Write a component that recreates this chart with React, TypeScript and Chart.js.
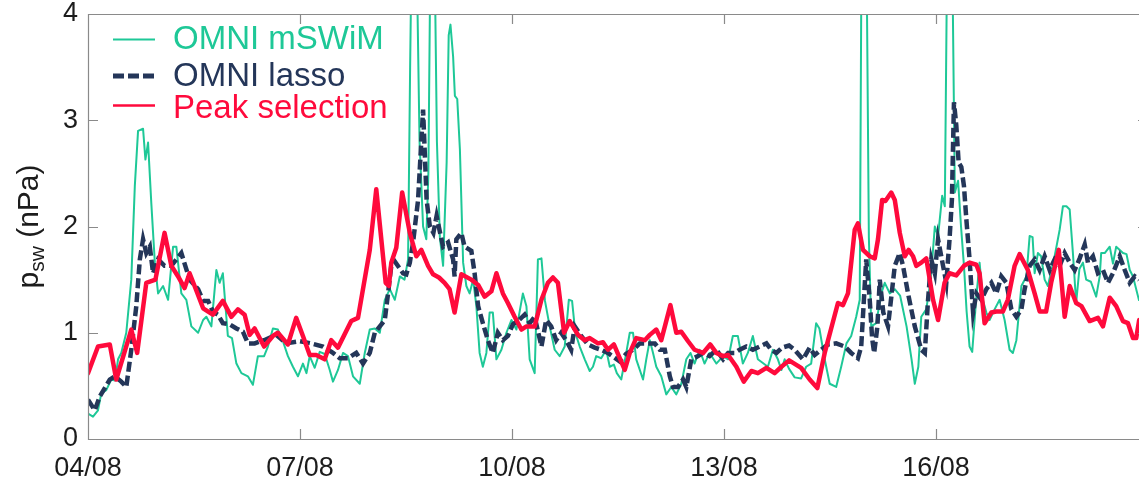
import React, { useEffect, useRef } from "react";
import { Chart, registerables } from "chart.js";

Chart.register(...registerables);

// Time axis: hours since 04/08 00:00
const xTickHours = [0, 72, 144, 216, 288];
const yTickValues = [0, 1, 2, 3, 4];
const startDay = 4;
const monthLabel = "08";

const seriesLabels = ["OMNI mSWiM", "OMNI lasso", "Peak selection"];

const mswimHours = [
  0, 1.7, 3.4, 4.5, 6.2, 7.9, 9.2, 10.2, 11.3, 13.0, 14.7, 15.9, 17.0, 18.7, 19.5, 20.4, 21.5, 22.7, 23.8, 25.5,
  27.2, 28.9, 30.0, 31.7, 33.4, 35.1, 37.4, 39.1, 40.2, 41.9, 43.6, 44.7, 45.8, 47.5, 48.9, 50.4, 52.1, 54.3, 56.0, 57.7,
  59.8, 61.1, 62.8, 64.5, 66.2, 67.9, 69.6, 71.3, 73.0, 74.2, 75.3, 77.0, 78.7, 80.4, 82.1, 83.2, 84.9, 86.6, 88.3, 90.0,
  92.3, 94.0, 95.7, 97.4, 99.1, 100.8, 102.5, 104.2, 105.9, 107.5, 108.7, 109.4, 109.9, 111.6, 112.6, 113.8, 114.9, 115.6, 116.3, 117.7,
  118.5, 119.5, 120.6, 121.8, 122.5, 123.1, 124.0, 124.6, 125.4, 126.3, 127.4, 128.5, 129.6, 130.8, 131.9, 133.0, 134.1, 135.3, 136.4, 137.5,
  138.7, 140.4, 142.1, 143.8, 145.5, 147.7, 148.9, 150.0, 151.7, 152.8, 154.0, 155.2, 156.8, 158.5, 160.2, 161.9, 163.3, 164.4, 165.5, 167.0,
  168.7, 170.4, 171.5, 172.6, 174.3, 176.0, 177.2, 178.6, 179.6, 181.1, 182.8, 184.0, 185.1, 186.2, 188.5, 189.6, 190.8, 191.9, 193.0, 194.7,
  196.4, 198.1, 199.8, 201.5, 203.2, 204.6, 206.0, 207.7, 209.4, 211.1, 213.4, 215.7, 217.4, 219.0, 220.7, 222.4, 224.1, 225.8, 227.5, 230.9,
  232.6, 234.3, 235.5, 236.6, 238.1, 240.0, 242.2, 243.9, 245.6, 247.3, 248.4, 250.2, 251.9, 254.1, 255.8, 257.6, 259.2, 260.9, 262.1, 262.7,
  264.4, 265.2, 266.0, 267.7, 269.4, 270.6, 272.3, 274.0, 275.8, 278.0, 279.7, 280.8, 282.0, 283.0, 284.7, 286.2, 287.6, 288.7, 290.1, 291.0,
  291.8, 293.5, 294.4, 295.5, 296.5, 297.5, 298.4, 299.4, 300.3, 301.7, 302.8, 304.0, 305.1, 306.2, 307.9, 309.6, 311.3, 313.0, 314.1, 315.3,
  317.0, 318.7, 319.8, 320.8, 321.5, 322.6, 323.7, 324.9, 326.0, 328.3, 330.0, 331.1, 332.3, 333.4, 334.5, 335.6, 336.7, 337.9, 339.0, 340.6,
  342.4, 343.6, 344.1, 345.3, 347.0, 348.1, 349.2, 351.5, 352.7, 353.8, 354.9, 357.0,
];
const mswimValues = [
  0.24, 0.21, 0.27, 0.43, 0.46, 0.56, 0.55, 0.75, 0.81, 1.0, 1.5, 2.38, 2.9, 2.92, 2.63, 2.79, 2.22, 1.66, 1.37, 1.44,
  1.31, 1.81, 1.81, 1.37, 1.31, 1.06, 1.0, 1.12, 1.15, 1.06, 1.59, 1.47, 1.56, 0.97, 0.95, 0.71, 0.62, 0.59, 0.51, 0.78,
  0.78, 0.87, 1.04, 1.03, 0.92, 0.78, 0.68, 0.59, 0.71, 0.62, 0.78, 0.67, 0.82, 0.8, 0.65, 0.54, 0.65, 0.81, 0.78, 0.59,
  0.52, 0.81, 1.03, 1.04, 1.0, 1.31, 1.41, 1.31, 1.53, 1.5, 1.69, 3.5, 4.6, 4.6, 2.8, 2.0, 1.88, 2.5, 4.6, 4.6,
  2.8, 1.9, 1.63, 2.6, 3.8, 3.9, 3.6, 3.23, 3.2, 2.73, 1.66, 1.44, 1.37, 1.5, 1.25, 0.81, 0.68, 0.81, 1.19, 1.19,
  0.75, 0.84, 1.0, 1.12, 1.03, 1.37, 1.25, 0.75, 0.62, 1.69, 1.7, 1.3, 1.06, 0.84, 0.78, 0.87, 1.31, 1.3, 1.0, 0.87,
  0.75, 0.64, 0.68, 0.78, 0.76, 0.84, 0.68, 0.7, 0.62, 0.56, 0.81, 1.0, 1.0, 0.75, 0.56, 0.75, 0.93, 0.81, 0.68, 0.59,
  0.42, 0.49, 0.42, 0.52, 0.75, 0.81, 0.71, 0.84, 0.71, 0.81, 0.71, 0.78, 0.75, 0.97, 0.97, 0.71, 0.81, 0.97, 0.75, 0.68,
  0.84, 0.75, 0.65, 0.75, 0.66, 0.58, 0.57, 0.68, 0.71, 1.09, 1.04, 0.75, 0.52, 0.49, 0.68, 0.9, 0.97, 1.15, 1.31, 4.6,
  4.6, 1.9, 1.06, 1.09, 1.37, 1.47, 1.37, 1.41, 1.35, 1.06, 0.75, 0.52, 0.68, 1.15, 1.22, 1.5, 2.0, 1.91, 2.29, 2.19,
  4.6, 4.6, 2.32, 2.43, 2.0, 1.63, 1.2, 0.87, 0.82, 1.34, 1.66, 1.3, 1.19, 1.12, 1.22, 1.31, 1.12, 0.84, 0.81, 0.93,
  1.44, 1.53, 1.91, 1.9, 1.56, 1.75, 1.72, 1.5, 1.44, 1.72, 1.97, 2.19, 2.19, 2.16, 1.75, 1.28, 1.6, 1.66, 1.5, 1.48,
  1.34, 1.53, 1.75, 1.75, 1.81, 1.65, 1.81, 1.75, 1.74, 1.59, 1.53, 1.3,
];

const lassoHours = [
  0, 2.3, 4.0, 7.4, 9.1, 11.3, 13.0, 14.7, 16.4, 17.6, 18.7, 19.8, 21.0, 22.1, 23.8, 26.0, 28.3, 30.0, 31.7, 34.5,
  37.4, 39.1, 40.8, 42.4, 44.1, 45.8, 48.1, 50.4, 52.6, 54.3, 56.6, 59.8, 63.9, 67.3, 71.9, 75.8, 79.8, 83.2, 85.5, 88.3,
  91.1, 93.4, 95.7, 97.4, 100.8, 101.9, 103.0, 104.2, 107.0, 108.1, 109.3, 110.4, 112.1, 113.8, 115.0, 116.1, 117.3, 118.4, 119.5, 120.6,
  122.3, 124.0, 124.5, 125.1, 126.8, 127.9, 130.2, 131.3, 132.5, 134.1, 135.8, 137.5, 139.2, 140.9, 142.6, 144.3, 146.0, 148.3, 150.0, 151.7,
  154.0, 155.6, 157.3, 159.0, 160.7, 162.4, 164.1, 165.3, 167.5, 169.8, 172.1, 174.3, 176.6, 178.6, 180.6, 182.7, 185.1, 187.4, 189.6, 192.5,
  194.2, 195.9, 197.6, 198.7, 200.4, 202.1, 203.2, 204.9, 207.2, 208.9, 211.1, 213.4, 215.7, 217.4, 219.6, 221.3, 223.6, 225.8, 228.1, 230.4,
  232.0, 233.8, 235.7, 238.1, 240.0, 242.8, 245.1, 246.8, 249.0, 251.3, 254.1, 257.0, 259.2, 261.5, 262.6, 264.3, 265.5, 266.3, 267.0, 268.1,
  268.9, 270.1, 271.7, 274.0, 275.7, 276.8, 278.5, 280.8, 283.0, 284.2, 285.3, 286.4, 287.6, 288.7, 290.4, 291.5, 292.6, 293.4, 294.1, 294.9,
  295.7, 296.6, 297.5, 298.3, 299.4, 300.6, 301.7, 303.4, 305.1, 306.8, 308.5, 310.2, 311.9, 313.6, 315.3, 317.0, 318.1, 319.8, 321.5, 323.2,
  324.9, 326.6, 328.3, 330.0, 331.7, 333.4, 335.1, 336.8, 338.5, 339.6, 341.3, 343.0, 344.7, 346.4, 348.1, 350.4, 352.1, 353.8, 355.5, 357.0,
];
const lassoValues = [
  0.37, 0.27, 0.4, 0.56, 0.59, 0.54, 0.49, 0.84, 1.25, 1.69, 1.88, 1.75, 1.81, 1.56, 1.69, 1.63, 1.63, 1.69, 1.75, 1.5,
  1.41, 1.3, 1.3, 1.2, 1.17, 1.09, 1.08, 1.04, 1.01, 0.9, 0.9, 0.93, 0.98, 0.9, 0.92, 0.9, 0.87, 0.81, 0.76, 0.76,
  0.81, 0.71, 0.81, 1.0, 1.12, 1.37, 1.63, 1.67, 1.56, 1.55, 1.66, 1.85, 2.25, 3.1, 2.25, 2.0, 1.94, 2.1, 1.95, 1.81,
  1.85, 1.69, 1.53, 1.88, 1.94, 1.81, 1.77, 1.56, 1.25, 1.09, 0.93, 0.81, 1.0, 0.93, 0.97, 1.08, 1.11, 1.17, 1.09, 1.15,
  0.87, 1.12, 1.06, 0.93, 1.0, 0.93, 0.84, 1.06, 0.97, 0.89, 0.86, 0.84, 0.81, 0.77, 0.73, 0.8, 0.84, 0.9, 0.9, 0.9,
  0.84, 0.84, 0.59, 0.49, 0.49, 0.56, 0.49, 0.75, 0.78, 0.81, 0.78, 0.84, 0.75, 0.81, 0.81, 0.84, 0.87, 0.84, 0.87, 0.9,
  0.84, 0.81, 0.86, 0.88, 0.84, 0.75, 0.86, 0.79, 0.84, 0.89, 0.9, 0.87, 0.81, 0.76, 0.87, 1.69, 1.31, 0.95, 0.81, 1.06,
  1.5, 1.19, 1.06, 1.63, 1.75, 1.63, 1.37, 1.06, 0.84, 0.81, 1.31, 1.69, 1.56, 1.88, 1.63, 1.47, 1.88, 2.25, 3.17, 2.95,
  2.6, 2.56, 2.38, 2.07, 1.69, 1.19, 1.37, 1.31, 1.41, 1.47, 1.37, 1.53, 1.47, 1.22, 1.15, 1.22, 1.41, 1.63, 1.69, 1.59,
  1.72, 1.59, 1.69, 1.63, 1.75, 1.66, 1.59, 1.7, 1.83, 1.66, 1.72, 1.56, 1.59, 1.47, 1.56, 1.72, 1.59, 1.47, 1.53, 1.5,
];

const peakHours = [
  0, 3.4, 7.4, 9.6, 14.7, 16.7, 19.8, 22.9, 26.0, 28.3, 30.6, 32.8, 34.5, 36.2, 39.1, 42.4, 45.8, 48.7, 50.9, 53.2,
  54.9, 56.6, 59.8, 62.8, 64.5, 67.9, 70.7, 73.0, 75.3, 77.5, 80.4, 82.6, 84.9, 89.4, 91.7, 95.7, 97.9, 101.1, 102.2, 103.0,
  104.7, 106.7, 109.3, 111.5, 113.2, 115.5, 117.2, 119.2, 121.1, 122.8, 124.5, 126.8, 130.2, 132.5, 134.7, 137.0, 138.7, 140.9, 142.6, 144.9,
  147.2, 148.9, 151.7, 154.0, 156.2, 157.9, 159.6, 161.7, 163.6, 166.4, 168.7, 170.4, 173.2, 174.9, 176.6, 178.6, 182.3, 184.0, 186.2, 189.1,
  190.8, 193.0, 194.7, 197.8, 199.8, 201.5, 203.8, 206.0, 208.9, 211.3, 213.4, 215.7, 217.4, 220.2, 222.7, 225.3, 227.5, 230.4, 233.2, 235.5,
  238.1, 242.2, 245.1, 247.7, 250.2, 254.7, 256.4, 258.1, 260.4, 261.5, 263.2, 265.5, 267.2, 268.3, 269.7, 270.8, 272.8, 274.0, 275.7, 277.4,
  278.7, 280.2, 281.3, 283.0, 284.7, 287.0, 288.7, 290.9, 292.6, 294.9, 297.5, 299.4, 301.7, 302.8, 304.5, 306.8, 308.5, 310.7, 312.4, 314.7,
  316.4, 319.2, 321.5, 323.2, 325.4, 327.1, 329.7, 331.7, 333.4, 335.6, 337.4, 340.2, 343.0, 344.7, 347.0, 349.2, 351.5, 353.2, 354.9, 356.0,
  357.0,
];
const peakValues = [
  0.62, 0.87, 0.89, 0.56, 1.03, 0.81, 1.47, 1.5, 1.94, 1.63, 1.53, 1.42, 1.56, 1.44, 1.23, 1.17, 1.3, 1.15, 1.22, 1.17,
  0.98, 1.04, 0.87, 0.97, 1.0, 0.89, 1.14, 0.97, 0.79, 0.79, 0.75, 0.93, 0.86, 1.11, 1.14, 1.78, 2.35, 1.47, 1.44, 1.66,
  1.8, 2.32, 1.94, 1.72, 1.78, 1.63, 1.55, 1.52, 1.47, 1.41, 1.19, 1.55, 1.5, 1.45, 1.34, 1.39, 1.56, 1.37, 1.28, 1.15,
  1.03, 1.06, 1.06, 1.31, 1.47, 1.52, 1.47, 1.0, 1.11, 0.98, 0.93, 0.95, 0.9, 0.91, 0.84, 0.89, 0.65, 0.81, 0.95, 0.93,
  0.98, 1.03, 0.93, 1.26, 1.0, 1.01, 0.92, 0.84, 0.81, 0.89, 0.81, 0.78, 0.79, 0.68, 0.54, 0.64, 0.62, 0.67, 0.62, 0.68,
  0.74, 0.67, 0.56, 0.48, 0.81, 1.28, 1.26, 1.37, 1.97, 2.03, 1.78, 1.72, 1.7, 1.88, 2.25, 2.24, 2.32, 2.25, 1.94, 1.72,
  1.78, 1.72, 1.63, 1.66, 1.7, 1.31, 1.12, 1.47, 1.56, 1.54, 1.63, 1.66, 1.64, 1.56, 1.09, 1.19, 1.2, 1.2, 1.31, 1.63,
  1.74, 1.59, 1.37, 1.2, 1.2, 1.47, 1.78, 1.15, 1.44, 1.28, 1.25, 1.11, 1.14, 1.06, 1.33, 1.25, 1.11, 1.09, 0.95, 0.95,
  1.12,
];

const GREEN = "#1ec897";
const NAVY = "#243659";
const RED = "#ff0a3c";
const AXIS = "#8a8a8a";
const TEXT = "#1c1c1c";
const FONT = '"Liberation Sans", Arial, Helvetica, sans-serif';

const toPoints = (hours: number[], values: number[]) =>
  hours.map((h, i) => ({ x: h, y: values[i] }));

const formatDay = (h: number) => {
  const d = startDay + Math.round(h / 24);
  return `${String(d).padStart(2, "0")}/${monthLabel}`;
};

// Box outline with inward tick marks on all four sides
const framePlugin = {
  id: "frame",
  afterDraw(chart: any) {
    const { ctx, chartArea: a, scales } = chart;
    const len = 10;
    ctx.save();
    ctx.strokeStyle = AXIS;
    ctx.lineWidth = 1.2;
    ctx.beginPath();
    ctx.rect(a.left + 0.5, a.top + 0.5, a.right - a.left, a.bottom - a.top);
    xTickHours.forEach((h) => {
      const px = Math.round(scales.x.getPixelForValue(h)) + 0.5;
      ctx.moveTo(px, a.bottom);
      ctx.lineTo(px, a.bottom - len);
      ctx.moveTo(px, a.top);
      ctx.lineTo(px, a.top + len);
    });
    yTickValues.forEach((v) => {
      const py = Math.round(scales.y.getPixelForValue(v)) + 0.5;
      ctx.moveTo(a.left, py);
      ctx.lineTo(a.left + len, py);
      ctx.moveTo(a.right, py);
      ctx.lineTo(a.right - len, py);
    });
    ctx.stroke();
    ctx.restore();
  },
};

// Y-axis title with a subscript
const yTitlePlugin = {
  id: "yTitle",
  afterDraw(chart: any) {
    const { ctx, chartArea: a } = chart;
    const main = `30px ${FONT}`;
    const sub = `21px ${FONT}`;
    ctx.save();
    ctx.font = main;
    const wP = ctx.measureText("p").width;
    const wRest = ctx.measureText(" (nPa)").width;
    ctx.font = sub;
    const wSub = ctx.measureText("sw").width;
    const total = wP + wSub + wRest;
    const cy = (a.top + a.bottom) / 2;
    ctx.translate(38, cy);
    ctx.rotate(-Math.PI / 2);
    ctx.fillStyle = TEXT;
    ctx.textBaseline = "alphabetic";
    let x = -total / 2;
    ctx.font = main;
    ctx.fillText("p", x, 0);
    x += wP;
    ctx.font = sub;
    ctx.fillText("sw", x, 6);
    x += wSub;
    ctx.font = main;
    ctx.fillText(" (nPa)", x, 0);
    ctx.restore();
  },
};

// Legend drawn inside the plot area, text coloured like its series
const legendPlugin = {
  id: "insideLegend",
  afterDraw(chart: any) {
    const { ctx } = chart;
    const rows = [
      { label: seriesLabels[0], color: GREEN, width: 2, dash: [] as number[], ly: 39.5, ty: 40 },
      { label: seriesLabels[1], color: NAVY, width: 5, dash: [11, 4], ly: 76, ty: 76.5 },
      { label: seriesLabels[2], color: RED, width: 2.5, dash: [] as number[], ly: 105.5, ty: 109 },
    ];
    ctx.save();
    rows.forEach((r) => {
      ctx.beginPath();
      ctx.strokeStyle = r.color;
      ctx.lineWidth = r.width;
      ctx.setLineDash(r.dash);
      ctx.lineCap = "butt";
      ctx.moveTo(113, r.ly);
      ctx.lineTo(155, r.ly);
      ctx.stroke();
      ctx.setLineDash([]);
      ctx.font = `33px ${FONT}`;
      ctx.fillStyle = r.color;
      ctx.textBaseline = "middle";
      ctx.textAlign = "left";
      ctx.fillText(r.label, 173, r.ty);
    });
    ctx.restore();
  },
};

export default function App() {
  const canvasRef = useRef<HTMLCanvasElement | null>(null);

  useEffect(() => {
    if (!canvasRef.current) return;
    const chart = new Chart(canvasRef.current, {
      type: "line",
      data: {
        datasets: [
          {
            label: seriesLabels[2],
            data: toPoints(peakHours, peakValues),
            borderColor: RED,
            borderWidth: 4.5,
            pointRadius: 0,
            tension: 0,
            borderJoinStyle: "round",
            borderCapStyle: "round",
            clip: 0,
            order: 0,
          },
          {
            label: seriesLabels[1],
            data: toPoints(lassoHours, lassoValues),
            borderColor: NAVY,
            borderWidth: 4.5,
            borderDash: [10, 4],
            pointRadius: 0,
            tension: 0,
            borderJoinStyle: "miter",
            clip: 0,
            order: 1,
          },
          {
            label: seriesLabels[0],
            data: toPoints(mswimHours, mswimValues),
            borderColor: GREEN,
            borderWidth: 2,
            pointRadius: 0,
            tension: 0,
            borderJoinStyle: "round",
            clip: 0,
            order: 2,
          },
        ],
      },
      options: {
        responsive: false,
        animation: false,
        devicePixelRatio: 1,
        layout: { padding: { top: 14, right: 2, left: 0, bottom: 0 } },
        plugins: {
          legend: { display: false },
          tooltip: { enabled: false },
        },
        scales: {
          x: {
            type: "linear",
            min: 0,
            max: 360,
            grid: { display: false, drawTicks: false, tickLength: 0 },
            border: { display: false },
            afterBuildTicks: (s: any) => {
              s.ticks = xTickHours.map((v) => ({ value: v }));
            },
            afterFit: (s: any) => {
              s.height = 42;
              s.paddingLeft = 0;
              s.paddingRight = 0;
            },
            ticks: {
              autoSkip: false,
              maxRotation: 0,
              padding: 13,
              color: TEXT,
              font: { family: FONT, size: 27 },
              callback: (v: any) => formatDay(Number(v)),
            },
          },
          y: {
            type: "linear",
            min: 0,
            max: 4,
            grid: { display: false, drawTicks: false, tickLength: 0 },
            border: { display: false },
            afterBuildTicks: (s: any) => {
              s.ticks = yTickValues.map((v) => ({ value: v }));
            },
            afterFit: (s: any) => {
              s.width = 88;
              s.paddingTop = 0;
              s.paddingBottom = 0;
            },
            ticks: {
              padding: 10,
              color: TEXT,
              font: { family: FONT, size: 27 },
              callback: (v: any) => String(v),
            },
          },
        },
      },
      plugins: [framePlugin, yTitlePlugin, legendPlugin],
    } as any);
    return () => chart.destroy();
  }, []);

  return (
    <div
      style={{
        position: "absolute",
        left: 0,
        top: 0,
        width: 1139,
        height: 481,
        overflow: "hidden",
        background: "#ffffff",
      }}
    >
      <canvas
        ref={canvasRef}
        width={1150}
        height={481}
        style={{ display: "block", width: 1150, height: 481 }}
      />
    </div>
  );
}
